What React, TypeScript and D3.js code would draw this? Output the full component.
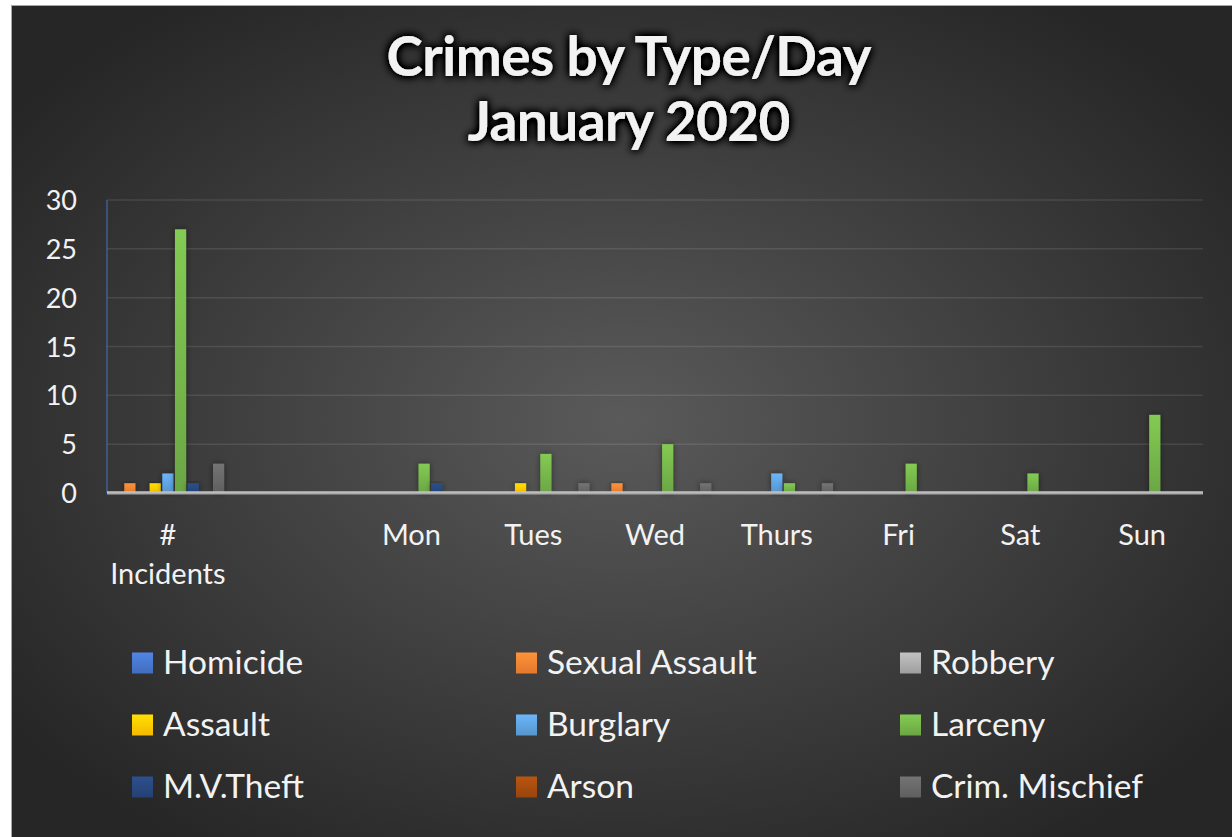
import React from "react";
import * as d3 from "d3";

const categories = ["# Incidents", "", "Mon", "Tues", "Wed", "Thurs", "Fri", "Sat", "Sun"];
const seriesNames = ["Homicide", "Sexual Assault", "Robbery", "Assault", "Burglary", "Larceny", "M.V.Theft", "Arson", "Crim. Mischief"];
const seriesColors = ["#4472C4", "#ED7D31", "#A5A5A5", "#FFC000", "#5B9BD5", "#70AD47", "#264478", "#9E480E", "#636363"];

const homicide = [0, 0, 0, 0, 0, 0, 0, 0, 0];
const sexualAssault = [1, 0, 0, 0, 1, 0, 0, 0, 0];
const robbery = [0, 0, 0, 0, 0, 0, 0, 0, 0];
const assault = [1, 0, 0, 1, 0, 0, 0, 0, 0];
const burglary = [2, 0, 0, 0, 0, 2, 0, 0, 0];
const larceny = [27, 0, 3, 4, 5, 1, 3, 2, 8];
const mvTheft = [1, 0, 1, 0, 0, 0, 0, 0, 0];
const arson = [0, 0, 0, 0, 0, 0, 0, 0, 0];
const crimMischief = [3, 0, 0, 1, 1, 1, 0, 0, 0];

const seriesValues = [homicide, sexualAssault, robbery, assault, burglary, larceny, mvTheft, arson, crimMischief];
const yTicks = [0, 5, 10, 15, 20, 25, 30];

const W = 1232;
const H = 837;
const FONT = "Lato, 'Open Sans', sans-serif";

export default function App() {
  const plotLeft = 107;
  const plotRight = 1203;
  const plotTop = 200;
  const plotBottom = 493;

  const idx = categories.map((_, i) => String(i));
  const pad = 0.076;
  const x0 = d3.scaleBand<string>().domain(idx).range([plotLeft, plotRight]).paddingInner(pad).paddingOuter(pad / 2);
  const x1 = d3.scaleBand<string>().domain(seriesNames).range([0, x0.bandwidth()]).paddingInner(0.12);
  const y = d3.scaleLinear().domain([0, 30]).range([plotBottom, plotTop]);

  const legendCols = [132, 516, 900];
  const legendRows = [663, 725, 787];

  return (
    <svg width={W} height={H} style={{ position: "absolute", left: 0, top: 0 }} xmlns="http://www.w3.org/2000/svg">
      <defs>
        <radialGradient id="bg" cx="0.5" cy="0.5" r="0.62">
          <stop offset="0" stopColor="#5a5a5a" />
          <stop offset="1" stopColor="#262626" />
        </radialGradient>
        {seriesColors.map((c, i) => {
          const top = d3.color(c)!.brighter(0.45).formatHex();
          const bot = d3.color(c)!.darker(0.12).formatHex();
          return (
            <linearGradient key={i} id={`bar${i}`} x1="0" y1="0" x2="0" y2="1">
              <stop offset="0" stopColor={top} />
              <stop offset="1" stopColor={bot} />
            </linearGradient>
          );
        })}
        <filter id="glow" x="-20%" y="-40%" width="140%" height="180%">
          <feGaussianBlur in="SourceAlpha" stdDeviation="5" result="b" />
          <feComponentTransfer in="b" result="b2">
            <feFuncA type="linear" slope="2.4" />
          </feComponentTransfer>
          <feMerge>
            <feMergeNode in="b2" />
            <feMergeNode in="SourceGraphic" />
          </feMerge>
        </filter>
        <filter id="shadow" x="-60%" y="-20%" width="220%" height="140%">
          <feDropShadow dx="0" dy="0" stdDeviation="3" floodColor="#000" floodOpacity="0.45" />
        </filter>
      </defs>

      <rect x={0} y={0} width={W} height={H} fill="#ffffff" />
      <rect x={11} y={5} width={W - 11} height={H - 5} fill="url(#bg)" />
      <line x1={11.5} y1={5} x2={11.5} y2={H} stroke="#a6a6a6" strokeWidth={1} />
      <line x1={11} y1={5.5} x2={W} y2={5.5} stroke="#a6a6a6" strokeWidth={1} />

      {/* Title */}
      <g filter="url(#glow)" fill="#f2f2f2" fontFamily={FONT} fontWeight="bold" textAnchor="middle" fontSize={55}>
        <text x={629} y={76} textLength={485} lengthAdjust="spacing">Crimes by Type/Day</text>
        <text x={629} y={141} textLength={323} lengthAdjust="spacing">January 2020</text>
      </g>

      {/* Gridlines */}
      {yTicks.filter((t) => t > 0).map((t) => (
        <line key={t} x1={plotLeft} x2={plotRight} y1={y(t)} y2={y(t)} stroke="#ffffff" strokeOpacity={0.1} strokeWidth={1.5} />
      ))}

      {/* Y tick labels */}
      {yTicks.map((t) => (
        <text key={t} x={77} y={y(t) + 10} textAnchor="end" fill="#f2f2f2" fontFamily={FONT} fontSize={27}>
          {t}
        </text>
      ))}

      {/* Bars */}
      {seriesValues.map((vals, si) => (
        <g key={si} filter="url(#shadow)">
          {vals.map((v, ci) =>
            v > 0 ? (
              <rect
                key={ci}
                x={x0(String(ci))! + x1(seriesNames[si])!}
                y={y(v)}
                width={x1.bandwidth()}
                height={y(0) - y(v)}
                fill={`url(#bar${si})`}
              />
            ) : null
          )}
        </g>
      ))}

      {/* Axes */}
      <line x1={plotLeft} x2={plotLeft} y1={plotTop} y2={plotBottom} stroke="#4472C4" strokeWidth={1} />
      <line x1={plotLeft} x2={plotRight} y1={plotBottom} y2={plotBottom} stroke="#aaaaaa" strokeWidth={3} />
      <line x1={plotLeft} x2={plotRight} y1={plotBottom - 1} y2={plotBottom - 1} stroke="#cfcfcf" strokeWidth={1} />

      {/* Category labels */}
      {categories.map((c, i) => {
        const cx = x0(String(i))! + x0.bandwidth() / 2;
        const words = c === "# Incidents" ? ["#", "Incidents"] : [c];
        return (
          <text key={i} x={cx} textAnchor="middle" fill="#f2f2f2" fontFamily={FONT} fontSize={29}>
            {words.map((w, wi) => (
              <tspan key={wi} x={cx} y={545 + wi * 38.5}>
                {w}
              </tspan>
            ))}
          </text>
        );
      })}

      {/* Legend */}
      {seriesNames.map((n, i) => {
        const lx = legendCols[i % 3];
        const ly = legendRows[Math.floor(i / 3)];
        return (
          <g key={n}>
            <rect x={lx} y={ly - 10.5} width={21} height={21} fill={`url(#bar${i})`} />
            <text x={lx + 31} y={ly + 11} fill="#f2f2f2" fontFamily={FONT} fontSize={33.5}>
              {n}
            </text>
          </g>
        );
      })}
    </svg>
  );
}
